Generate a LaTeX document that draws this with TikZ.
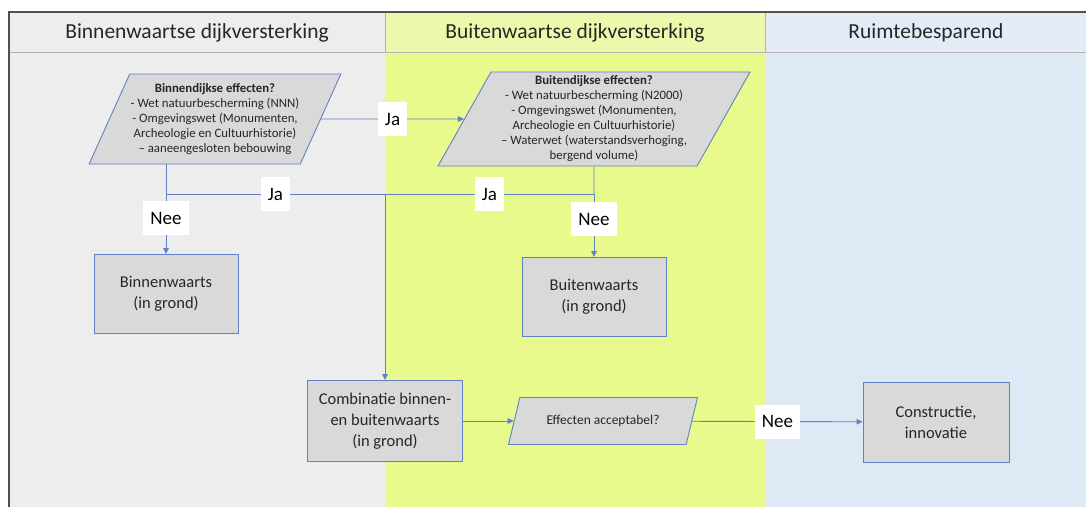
\documentclass[tikz,border=0pt]{standalone}
\usepackage{fontspec}
\setmainfont{Carlito}
\usetikzlibrary{shapes.geometric,arrows.meta}

\definecolor{linkblue}{RGB}{96,130,196}
\definecolor{boxgray}{RGB}{217,217,217}
\definecolor{laneone}{RGB}{237,237,237}
\definecolor{lanetwo}{RGB}{232,250,140}
\definecolor{lanethree}{RGB}{222,233,246}
\definecolor{headtwo}{RGB}{238,248,172}
\definecolor{headthree}{RGB}{227,235,246}
\definecolor{rulegray}{RGB}{178,178,178}
\definecolor{framegray}{RGB}{80,80,80}
\definecolor{inkgray}{RGB}{38,38,38}

\begin{document}
\begin{tikzpicture}[x=1pt, y=-1pt,
    head/.style={font=\fontsize{21.5}{24}\selectfont, text=inkgray},
    box/.style={draw=linkblue, fill=boxgray, line width=0.9pt, align=center,
        minimum width=144pt, minimum height=79pt, text=inkgray,
        font=\fontsize{16.5}{21}\selectfont},
    question/.style={trapezium, trapezium stretches body, draw=linkblue,
        fill=boxgray, line width=0.9pt, align=center, inner sep=1pt, text=inkgray,
        font=\fontsize{12.8}{15}\selectfont},
    answer/.style={fill=white, inner xsep=7pt, minimum height=34pt, text=black,
        font=\fontsize{19}{22}\selectfont},
    link/.style={draw=linkblue, line width=0.9pt},
    arrow/.style={link, -{Triangle[length=6pt,width=5.5pt]}}]
    \useasboundingbox (0,0) rectangle (1086,507);

    % swimlanes
    \fill[laneone] (9,12) rectangle (385,507);
    \fill[lanetwo] (385,12) rectangle (765,507);
    \fill[lanethree] (765,12) rectangle (1086,507);
    \fill[headtwo] (385,12) rectangle (765,52);
    \fill[headthree] (765,12) rectangle (1086,52);
    \draw[rulegray, line width=1pt] (9,52) -- (1086,52);
    \draw[rulegray, line width=1pt] (385,12) -- (385,52);
    \draw[rulegray, line width=1pt] (765,12) -- (765,52);
    \draw[framegray, line width=2pt] (1086,12) -- (9,12) -- (9,507);

    \node[head] (hbinnen) at (197,33) {Binnenwaartse dijkversterking};
    \node[head] (hbuiten) at (575,33) {Buitenwaartse dijkversterking};
    \node[head] (hruimte) at (926,33) {Ruimtebesparend};

    % questions
    \node[question, minimum width=244pt, minimum height=90pt,
        trapezium left angle=61, trapezium right angle=119] (binnen) at (215,119)
        {\textbf{Binnendijkse effecten?}\\- Wet natuurbescherming (NNN)\\
         - Omgevingswet (Monumenten,\\Archeologie en Cultuurhistorie)\\
         -- aaneengesloten bebouwing};
    \node[question, minimum width=312pt, minimum height=94pt,
        trapezium left angle=59, trapezium right angle=121] (buiten) at (594,119)
        {\textbf{Buitendijkse effecten?}\\- Wet natuurbescherming (N2000)\\
         - Omgevingswet (Monumenten,\\Archeologie en Cultuurhistorie)\\
         -- Waterwet (waterstandsverhoging,\\bergend volume)};
    \node[question, minimum width=189pt, minimum height=47pt,
        trapezium left angle=50, trapezium right angle=130,
        font=\fontsize{13.5}{15}\selectfont] (accept) at (603,421)
        {Effecten acceptabel?};

    % outcomes
    \node[box] (binnenw) at (166,294) {Binnenwaarts\\(in grond)};
    \node[box] (buitenw) at (594,297) {Buitenwaarts\\(in grond)};
    \node[box, minimum width=155pt, minimum height=81pt] (combi) at (385,421)
        {Combinatie binnen-\\en buitenwaarts\\(in grond)};
    \node[box, minimum width=146pt, minimum height=80pt] (constr) at (936,422)
        {Constructie,\\innovatie};

    \coordinate (splitL) at (166,194);
    \coordinate (merge) at (385,194);
    \coordinate (splitR) at (594,194);

    \draw[arrow] (binnen.east) -- node[answer] {Ja} (buiten.west);
    \draw[link] (binnen.south -| splitL) -- (splitL);
    \draw[arrow] (splitL) -- node[answer, pos=0.4] {Nee} (binnenw);
    \draw[link] (splitL) -- node[answer] {Ja} (merge);
    \draw[link] (buiten.south) -- (splitR);
    \draw[link] (splitR) -- node[answer] {Ja} (merge);
    \draw[arrow] (splitR) -- node[answer, pos=0.4] {Nee} (buitenw);
    \draw[arrow] (merge) -- (combi);
    \draw[arrow] (combi) -- (accept);
    \draw[arrow] (accept) -- node[answer] {Nee} (constr);
\end{tikzpicture}
\end{document}
